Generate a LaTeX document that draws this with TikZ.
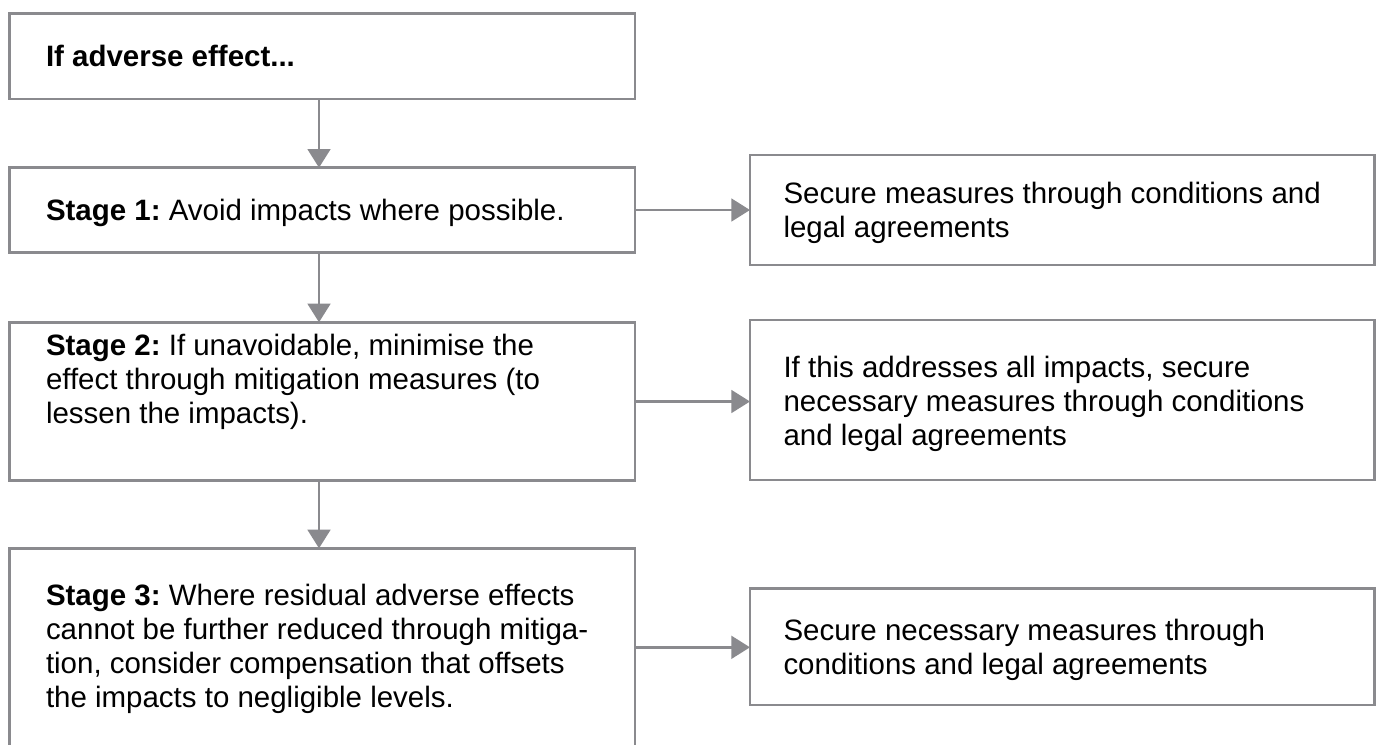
\documentclass[tikz,border=0pt]{standalone}
\usepackage{fontspec}
\setmainfont{Liberation Sans}
\usetikzlibrary{arrows.meta,fit}
\definecolor{edge}{RGB}{138,138,142}
\frenchspacing
\begin{document}
\begin{tikzpicture}[x=0.75pt,y=-0.75pt,
  box/.style={draw=edge, line width=2.1pt, inner sep=0pt, outer sep=0pt, fill=white},
  txt/.style={anchor=base west, inner sep=0pt, outer sep=0pt, font=\fontsize{22.1}{25.5}\selectfont\frenchspacing, text=black},
  flow/.style={draw=edge, line width=2.1pt, -{Triangle[length=14pt,width=17pt]}}]
\useasboundingbox (0,0) rectangle (1376,744);
\clip (0,0) rectangle (1376,744);
\fill[white] (0,0) rectangle (1376,744);
% left column
\node[box, fit={(9.5,13.5)(635,99)}] (b0) {};
\node[box, fit={(9.5,167.7)(635,252.7)}] (b1) {};
\node[box, fit={(9.5,322.3)(635,480.7)}] (b2) {};
\node[box, fit={(9.5,548.3)(635,770)}] (b3) {};
% right column
\node[box, fit={(750,155)(1374.5,265)}] (r1) {};
\node[box, fit={(750,320)(1374.5,480)}] (r2) {};
\node[box, fit={(750,588.3)(1374.5,705)}] (r3) {};
% texts
\node[txt] (t0) at (46,66.7) {\textbf{If adverse effect...}};
\node[txt] (t1) at (46,220.7) {\textbf{Stage 1:} Avoid impacts where possible.};
\node[txt] (t2) at (46,355) {\begin{tabular}[t]{@{}l@{}}\textbf{Stage 2:} If unavoidable, minimise the\\effect through mitigation measures (to\\lessen the impacts).\end{tabular}};
\node[txt] (t3) at (46,605.5) {\begin{tabular}[t]{@{}l@{}}\textbf{Stage 3:} Where residual adverse effects\\cannot be further reduced through mitiga-\\tion, consider compensation that offsets\\the impacts to negligible levels.\end{tabular}};
\node[txt] (u1) at (783.5,203.5) {\begin{tabular}[t]{@{}l@{}}Secure measures through conditions and\\legal agreements\end{tabular}};
\node[txt] (u2) at (783.5,377) {\begin{tabular}[t]{@{}l@{}}If this addresses all impacts, secure\\necessary measures through conditions\\and legal agreements\end{tabular}};
\node[txt] (u3) at (783.5,640) {\begin{tabular}[t]{@{}l@{}}Secure necessary measures through\\conditions and legal agreements\end{tabular}};
% connectors
\coordinate (ax) at (319,0);
\draw[flow] (b0.south -| ax) -- (b1.north -| ax);
\draw[flow] (b1.south -| ax) -- (b2.north -| ax);
\draw[flow] (b2.south -| ax) -- (b3.north -| ax);
\draw[flow] (r1.west -| b1.east) -- (r1.west);
\draw[flow] (b2.east) -- (b2.east -| r2.west);
\coordinate (y3) at (0,647.3);
\draw[flow] (y3 -| b3.east) -- (y3 -| r3.west);
\end{tikzpicture}
\end{document}
